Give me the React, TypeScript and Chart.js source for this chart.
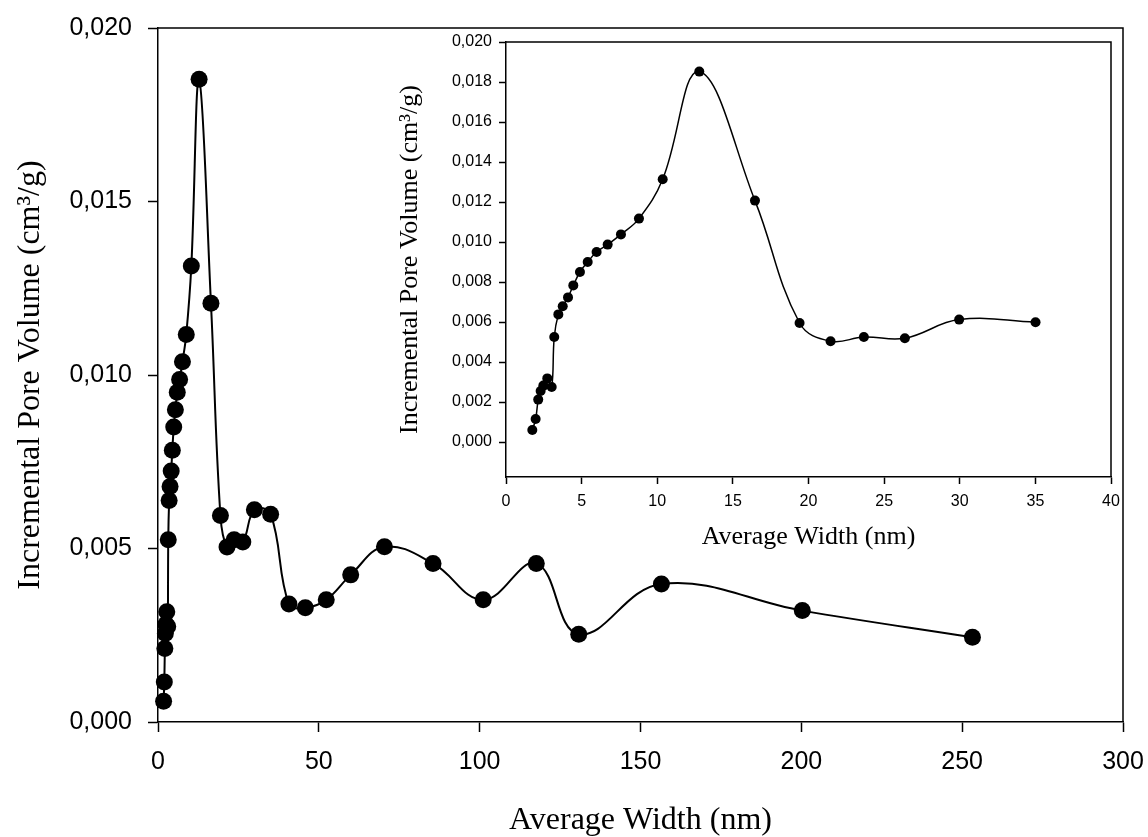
import React, { useEffect, useRef } from "react";
import { Chart, registerables } from "chart.js";

Chart.register(...registerables);

// Pore size distribution: average pore width (nm) vs incremental pore volume (cm³/g)
const widths = [
  1.74, 1.96, 2.13, 2.29, 2.47, 2.73, 3.02, 3.19, 3.46, 3.75, 4.1, 4.45, 4.89,
  5.4, 5.99, 6.72, 7.6, 8.79, 10.36, 12.78, 16.46, 19.41, 21.46, 23.66, 26.37,
  29.96, 35.01, 40.7, 45.8, 52.3, 59.9, 70.4, 85.5, 101.1, 117.6, 130.8, 156.5,
  200.3, 253.2,
];
const volumes = [
  0.0006, 0.00115, 0.00212, 0.00255, 0.00282, 0.00318, 0.00275, 0.00525,
  0.00638, 0.00679, 0.00723, 0.00783, 0.0085, 0.009, 0.0095, 0.00987, 0.01038,
  0.01117, 0.01314, 0.01852, 0.01207, 0.00595, 0.00504, 0.00525, 0.00519,
  0.00612, 0.00599, 0.0034, 0.00329, 0.00352, 0.00424, 0.00505, 0.00457,
  0.00352, 0.00457, 0.00253, 0.00398, 0.00321, 0.00244,
];

// Axis ticks
const mainXTicks = [0, 50, 100, 150, 200, 250, 300];
const mainYTicks = [0, 0.005, 0.01, 0.015, 0.02];
const insetXTicks = [0, 5, 10, 15, 20, 25, 30, 35, 40];
const insetYTicks = [0, 0.002, 0.004, 0.006, 0.008, 0.01, 0.012, 0.014, 0.016, 0.018, 0.02];
const insetMaxWidth = 40;

const xTitle = "Average Width (nm)";
const yTitle = "Incremental Pore Volume (cm³/g)";

const SANS = "'Liberation Sans', Arial, sans-serif";
const SERIF = "'Liberation Serif', 'Times New Roman', serif";

const fmtComma = (v: number) => Number(v).toFixed(3).replace(".", ",");

// Draws the top and right edges of the plot frame
const framePlugin = {
  id: "frame",
  afterDraw(chart: any, _args: any, opts: any) {
    const { ctx, chartArea } = chart;
    const { left, right, top, bottom } = chartArea;
    ctx.save();
    ctx.strokeStyle = "#000";
    ctx.lineWidth = opts.lineWidth || 1.5;
    ctx.beginPath();
    ctx.moveTo(left, top);
    ctx.lineTo(right, top);
    ctx.lineTo(right, bottom);
    ctx.stroke();
    ctx.restore();
  },
};

function makeConfig(p: {
  points: { x: number; y: number }[];
  xMin: number;
  xMax: number;
  yMin: number;
  yMax: number;
  xTicks: number[];
  yTicks: number[];
  padding: any;
  yWidth: number;
  xHeight: number;
  tickFont: number;
  titleFont: number;
  tickLen: number;
  yTickPad: number;
  xTickPad: number;
  yTitlePad: number;
  xTitlePad: any;
  radius: number;
  lineWidth: number;
  axisWidth: number;
}) {
  return {
    type: "scatter",
    data: {
      datasets: [
        {
          data: p.points,
          showLine: true,
          borderColor: "#000",
          borderWidth: p.lineWidth,
          backgroundColor: "#000",
          pointBackgroundColor: "#000",
          pointBorderColor: "#000",
          pointBorderWidth: 0,
          pointRadius: p.radius,
          tension: 0.4,
          fill: false,
          clip: false,
        },
      ],
    },
    options: {
      animation: false,
      responsive: false,
      maintainAspectRatio: false,
      events: [],
      layout: { padding: p.padding },
      plugins: {
        legend: { display: false },
        tooltip: { enabled: false },
        frame: { lineWidth: p.axisWidth },
      },
      scales: {
        x: {
          type: "linear",
          min: p.xMin,
          max: p.xMax,
          afterBuildTicks: (scale: any) => {
            scale.ticks = p.xTicks.map((v) => ({ value: v }));
          },
          afterFit: (scale: any) => {
            scale.height = p.xHeight;
            scale.paddingLeft = 0;
            scale.paddingRight = 0;
          },
          ticks: {
            color: "#000",
            font: { family: SANS, size: p.tickFont },
            padding: p.xTickPad,
            maxRotation: 0,
            autoSkip: false,
            callback: (v: number) => String(v),
          },
          grid: {
            display: true,
            drawOnChartArea: false,
            drawTicks: true,
            tickLength: p.tickLen,
            tickColor: "#000",
            tickWidth: p.axisWidth,
          },
          border: { display: true, color: "#000", width: p.axisWidth },
          title: {
            display: true,
            text: xTitle,
            color: "#000",
            font: { family: SERIF, size: p.titleFont, weight: "normal" },
            padding: p.xTitlePad,
          },
        },
        y: {
          type: "linear",
          min: p.yMin,
          max: p.yMax,
          afterBuildTicks: (scale: any) => {
            scale.ticks = p.yTicks.map((v) => ({ value: v }));
          },
          afterFit: (scale: any) => {
            scale.width = p.yWidth;
            scale.paddingTop = 0;
            scale.paddingBottom = 0;
          },
          ticks: {
            color: "#000",
            font: { family: SANS, size: p.tickFont },
            padding: p.yTickPad,
            autoSkip: false,
            callback: (v: number) => fmtComma(v),
          },
          grid: {
            display: true,
            drawOnChartArea: false,
            drawTicks: true,
            tickLength: p.tickLen,
            tickColor: "#000",
            tickWidth: p.axisWidth,
          },
          border: { display: true, color: "#000", width: p.axisWidth },
          title: {
            display: true,
            text: yTitle,
            color: "#000",
            font: { family: SERIF, size: p.titleFont, weight: "normal" },
            padding: { top: p.yTitlePad, bottom: 0 },
          },
        },
      },
    },
    plugins: [framePlugin],
  } as any;
}

export default function App() {
  const mainRef = useRef<HTMLCanvasElement>(null);
  const insetRef = useRef<HTMLCanvasElement>(null);

  useEffect(() => {
    const allPoints = widths.map((w, i) => ({ x: w, y: volumes[i] }));
    const insetPoints = allPoints.filter((pt) => pt.x <= insetMaxWidth);

    const main = new Chart(
      mainRef.current as HTMLCanvasElement,
      makeConfig({
        points: allPoints,
        xMin: 0,
        xMax: 300,
        yMin: 0,
        yMax: 0.02,
        xTicks: mainXTicks,
        yTicks: mainYTicks,
        padding: { left: 0, top: 28, right: 25, bottom: 0 },
        yWidth: 158,
        xHeight: 115,
        tickFont: 25,
        titleFont: 32,
        tickLen: 10,
        yTickPad: 16,
        xTickPad: 15,
        yTitlePad: 11,
        xTitlePad: { top: 0, bottom: -3 },
        radius: 8.5,
        lineWidth: 2,
        axisWidth: 1.5,
      })
    );

    const inset = new Chart(
      insetRef.current as HTMLCanvasElement,
      makeConfig({
        points: insetPoints,
        xMin: 0,
        xMax: 40,
        yMin: -0.00175,
        yMax: 0.02,
        xTicks: insetXTicks,
        yTicks: insetYTicks,
        padding: { left: 0, top: 42, right: 29, bottom: 0 },
        yWidth: 126,
        xHeight: 83,
        tickFont: 16,
        titleFont: 26,
        tickLen: 7,
        yTickPad: 7,
        xTickPad: 8,
        yTitlePad: 15,
        xTitlePad: { top: 0, bottom: 7 },
        radius: 5,
        lineWidth: 1.5,
        axisWidth: 1.5,
      })
    );

    return () => {
      main.destroy();
      inset.destroy();
    };
  }, []);

  return (
    <div
      style={{
        position: "absolute",
        left: 0,
        top: 0,
        width: 1148,
        height: 837,
        background: "#fff",
        overflow: "hidden",
      }}
    >
      <canvas
        ref={mainRef}
        width={1148}
        height={837}
        style={{ position: "absolute", left: 0, top: 0, width: 1148, height: 837 }}
      />
      <canvas
        ref={insetRef}
        width={760}
        height={560}
        style={{ position: "absolute", left: 380, top: 0, width: 760, height: 560 }}
      />
    </div>
  );
}
